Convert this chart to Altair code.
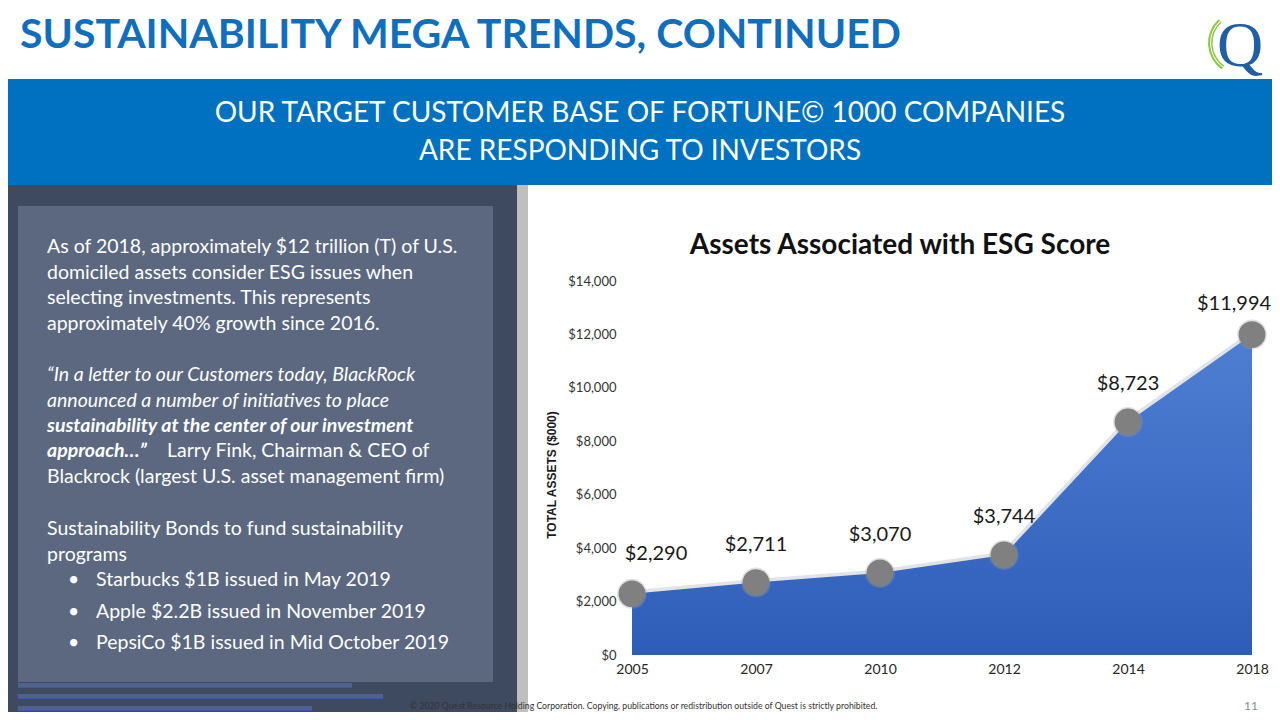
import altair as alt
import pandas as pd

# ---- data ----
years = ["2005", "2007", "2010", "2012", "2014", "2018"]
assets = [2290, 2711, 3070, 3744, 8723, 11994]
y_ticks = [0, 2000, 4000, 6000, 8000, 10000, 12000, 14000]

title_text = "SUSTAINABILITY MEGA TRENDS, CONTINUED"
subtitle_lines = ["OUR TARGET CUSTOMER BASE OF FORTUNE\u00a9 1000 COMPANIES",
                  "ARE RESPONDING TO INVESTORS"]
chart_title = "Assets Associated with ESG Score"
y_title = "TOTAL ASSETS ($000)"
para1 = ["As of 2018, approximately $12 trillion (T) of U.S.",
         "domiciled assets consider ESG issues when",
         "selecting investments.  This represents",
         "approximately 40% growth since 2016."]
quote_italic = ["\u201cIn a letter to our Customers today, BlackRock",
                "announced a number of initiatives to place"]
quote_bold = ["sustainability  at the center of our investment", "approach\u2026\u201d"]
quote_rest = ["Larry Fink, Chairman & CEO of", "Blackrock (largest U.S. asset management firm)"]
bonds_intro = ["Sustainability Bonds to fund sustainability", "programs"]
bullets = ["Starbucks $1B issued in May 2019",
           "Apple $2.2B  issued in November 2019",
           "PepsiCo $1B issued in Mid October 2019"]
footer = ("\u00a9 2020 Quest Resource Holding Corporation.  Copying, publications or "
          "redistribution outside of Quest is strictly prohibited.")
page_no = "11"

df = pd.DataFrame({"year": years, "assets": assets})

# ---- layout (slide pixel coordinates) ----
PX0, PY0 = 632, 281          # plot origin on the page
PW, PH = 620, 374            # plot size
FONT = "Lato"


def rx(x):
    return x - PX0


def ry(y):
    return y - PY0


one = pd.DataFrame({"d": [0]})


def rect(x1, y1, x2, y2, color, opacity=1.0):
    return alt.Chart(one).mark_rect(color=color, opacity=opacity).encode(
        x=alt.value(rx(x1)), x2=alt.value(rx(x2)),
        y=alt.value(ry(y1)), y2=alt.value(ry(y2)))


def txt(s, x, y, size, color="#ffffff", weight="normal", style="normal",
        align="left", font=FONT, angle=0):
    return alt.Chart(one).mark_text(
        text=s, fontSize=size, color=color, fontWeight=weight, fontStyle=style,
        align=align, baseline="middle", font=font, angle=angle).encode(
        x=alt.value(rx(x)), y=alt.value(ry(y)))


layers = []
# header band
layers.append(rect(0, 79, 1280, 185, "#0070c0"))
# left panel
layers.append(rect(0, 185, 517, 720, "#3e4a5f"))
layers.append(rect(18, 206, 493, 682, "#5b6880"))
layers.append(rect(517, 185, 528, 720, "#bfbfbf"))

# slide title
layers.append(txt(title_text, 20, 36, 41, color="#0f6fbe", weight="bold"))
# logo
for r_out, r_in in [(32, 30), (29, 27.5)]:
    layers.append(alt.Chart(one).mark_arc(
        radius=r_out, radius2=r_in, theta=3.75, theta2=5.55, color="#8dc63f").encode(
        x=alt.value(rx(1240)), y=alt.value(ry(43))))
layers.append(txt("Q", 1240, 47, 64, color="#1f5fa8", align="center",
                  font="Liberation Serif"))

# subtitle
layers.append(txt(subtitle_lines[0], 640, 114, 28, align="center"))
layers.append(txt(subtitle_lines[1], 640, 152, 28, align="center"))

# left panel text
LX = 47
BS = 19.5
for s, y in zip(para1, [247, 273, 298, 324]):
    layers.append(txt(s, LX, y, BS))
for s, y in zip(quote_italic, [375, 401]):
    layers.append(txt(s, LX, y, BS, style="italic"))
layers.append(txt(quote_bold[0], LX, 426, BS, style="italic", weight="bold"))
layers.append(txt(quote_bold[1], LX, 451, BS, style="italic", weight="bold"))
layers.append(txt(quote_rest[0], 167, 451, BS))
layers.append(txt(quote_rest[1], LX, 477, BS))
for s, y in zip(bonds_intro, [529, 555]):
    layers.append(txt(s, LX, y, BS))
for s, y in zip(bullets, [580, 612, 643]):
    layers.append(txt("\u2022", 68, y, BS))
    layers.append(txt(s, 96, y, BS))

# footnote link lines (tiny unreadable hyperlinks)
for x2, y in [(352, 686), (383, 697), (312, 709)]:
    layers.append(rect(18, y - 3, x2, y + 1, "#6f8fd8", opacity=0.35))
    layers.append(rect(18, y + 1, x2, y + 1.8, "#3a6ad6", opacity=0.8))

# footer
layers.append(txt(footer, 410, 706, 8.7, color="#333333"))
layers.append(txt(page_no, 1258, 706, 12, color="#8c8c8c", align="right"))

# chart title and y title
layers.append(txt(chart_title, 900, 246, 28, color="#111111", weight="bold", align="center"))
layers.append(txt(y_title, 552, 475, 12, color="#1a1a1a", weight="bold", align="center",
                  font="Liberation Sans", angle=270))

# ---- data layers ----
x_enc = alt.X("year:O", sort=years, title=None,
              scale=alt.Scale(type="point", padding=0),
              axis=alt.Axis(labelAngle=0, domain=False, ticks=False, labelPadding=7,
                            labelFont=FONT, labelFontSize=14, labelColor="#262626"))
y_enc = alt.Y("assets:Q", title=None,
              scale=alt.Scale(domain=[0, 14000], nice=False),
              axis=alt.Axis(values=y_ticks, format="$,.0f", domain=False, ticks=False,
                            grid=False, labelPadding=16, labelFont=FONT,
                            labelFontSize=13, labelColor="#333333"))

base = alt.Chart(df)

glow = base.mark_line(color="#dcdcdc", strokeWidth=7, opacity=0.8).encode(x=x_enc, y=y_enc)
area = base.mark_area(
    color=alt.Gradient(gradient="linear",
                       stops=[alt.GradientStop(color="#2e5db9", offset=0),
                              alt.GradientStop(color="#4e7fd2", offset=1)],
                       x1=1, x2=1, y1=1, y2=0)).encode(x=x_enc, y=y_enc)
shadow = base.mark_circle(size=900, color="#9a9a9a", opacity=0.3).encode(x=x_enc, y=y_enc)
points = base.mark_circle(size=720, color="#808080", opacity=1).encode(x=x_enc, y=y_enc)

lab_style = dict(fontSize=20, font=FONT, color="#1a1a1a")
lab_text = alt.Text("assets:Q", format="$,.0f")
label_first = base.transform_filter(alt.datum.year == "2005").mark_text(
    dy=-40, dx=24, **lab_style).encode(x=x_enc, y=y_enc, text=lab_text)
labels_mid = base.transform_filter(
    (alt.datum.year != "2005") & (alt.datum.year != "2018")).mark_text(
    dy=-38, **lab_style).encode(x=x_enc, y=y_enc, text=lab_text)
label_last = base.transform_filter(alt.datum.year == "2018").mark_text(
    dy=-31, dx=-18, **lab_style).encode(x=x_enc, y=y_enc, text=lab_text)

chart = alt.layer(*layers, glow, area, shadow, points,
                  label_first, labels_mid, label_last).properties(
    width=PW, height=PH,
    autosize=alt.AutoSizeParams(type="none"),
    padding={"left": PX0 - 8, "top": PY0 - 8,
             "right": 1264 - (PX0 - 8) - PW, "bottom": 704 - (PY0 - 8) - PH},
    background="#ffffff",
).configure_view(stroke=None)

chart.save("out.html", embed_options={"renderer": "svg", "actions": False})
